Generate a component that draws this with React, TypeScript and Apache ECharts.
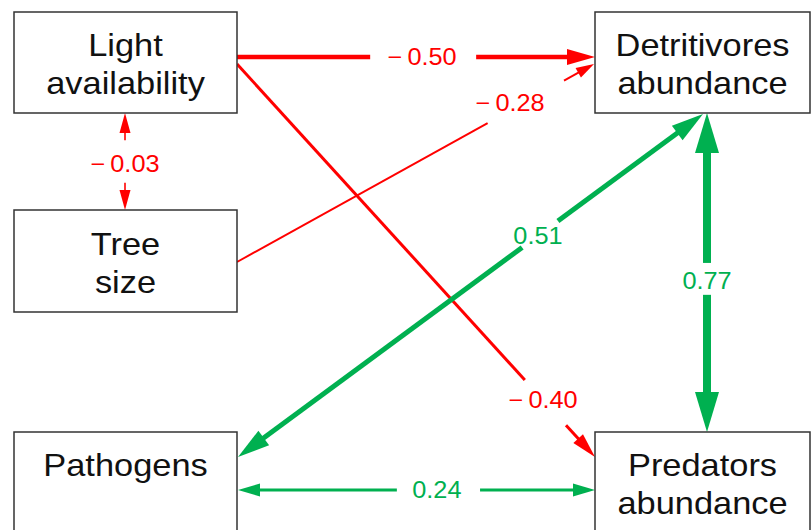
import React, { useEffect, useRef } from "react";
import * as echarts from "echarts";

// ---- Data ----
const variables = [
  "Light\navailability",
  "Tree\nsize",
  "Detritivores\nabundance",
  "Pathogens\n",
  "Predators\nabundance",
];
const pathFrom = [0, 1, 0, 0, 3, 2, 3];
const pathTo = [2, 2, 4, 1, 2, 4, 4];
const coefficients = [-0.5, -0.28, -0.4, -0.03, 0.51, 0.77, 0.24];

// ---- Layout (diagram coordinates) ----
const boxLayout = [
  [14, 12, 237, 113],
  [14, 210, 237, 312],
  [595, 12, 810, 113],
  [14, 432, 237, 533],
  [595, 432, 810, 533],
];
const pathLayout = [
  { p0: [237, 57], p1: [595, 57], w: 4.5, heads: [0, 1], hl: 28, hw: 16, gap: [0.372, 0.668], lt: 0.517, lo: [0, 0] },
  { p0: [237, 262], p1: [594, 64], w: 2, heads: [0, 1], hl: 18, hw: 11, gap: [0.702, 0.916], lt: 0.765, lo: [0, -8] },
  { p0: [237, 64], p1: [595, 457], w: 3, heads: [0, 1], hl: 25, hw: 13, gap: [0.804, 0.919], lt: 0.855, lo: [0, 0] },
  { p0: [125, 113], p1: [125, 210], w: 1.6, heads: [1, 1], hl: 20, hw: 11, gap: [0.28, 0.72], lt: 0.52, lo: [0, 0] },
  { p0: [238, 457], p1: [703, 114], w: 5, heads: [1, 1], hl: 32, hw: 18, gap: [0.611, 0.688], lt: 0.645, lo: [0, 0] },
  { p0: [707, 113], p1: [707, 432], w: 8, heads: [1, 1], hl: 40, hw: 24, gap: [0.47, 0.57], lt: 0.527, lo: [0, 0] },
  { p0: [238, 490], p1: [595, 490], w: 3, heads: [1, 1], hl: 22, hw: 13, gap: [0.445, 0.678], lt: 0.557, lo: [0, 0] },
];

const RED = "#FF0000";
const GREEN = "#00B050";
const FONT = "Liberation Sans, Arial, Helvetica, sans-serif";
const BOX_FS = 31;
const BOX_LH = 38;
const BOX_SX = 1.11;
const LAB_FS = 23;
const LAB_SX = 1.1;

const fmt = (v: number) => (v < 0 ? "\u2212\u2009" + Math.abs(v).toFixed(2) : v.toFixed(2));

export default function App() {
  const ref = useRef<HTMLDivElement>(null);
  useEffect(() => {
    if (!ref.current) return;
    const chart = echarts.init(ref.current, undefined, { renderer: "svg" });

    const renderBox = (params: any, api: any) => {
      const i = api.value(0);
      const [x0, y0, x1, y1] = boxLayout[i];
      const a = api.coord([x0, y0]);
      const b = api.coord([x1, y1]);
      const cx = (a[0] + b[0]) / 2;
      const cy = (a[1] + b[1]) / 2;
      const lines = variables[i].split("\n");
      const n = lines.length;
      const children: any[] = [
        {
          type: "rect",
          shape: { x: a[0], y: a[1], width: b[0] - a[0], height: b[1] - a[1] },
          style: { fill: "#fff", stroke: "#333", lineWidth: 1.5 },
        },
      ];
      lines.forEach((t, j) => {
        if (!t) return;
        children.push({
          type: "text",
          x: cx,
          y: cy + (j - (n - 1) / 2) * BOX_LH + 2,
          scaleX: BOX_SX,
          style: {
            text: t,
            fill: "#111",
            fontSize: BOX_FS,
            fontFamily: FONT,
            align: "center",
            verticalAlign: "middle",
          },
        });
      });
      return { type: "group", children };
    };

    const renderPath = (params: any, api: any) => {
      const k = api.value(0);
      const L = pathLayout[k];
      const v = coefficients[k];
      const color = v < 0 ? RED : GREEN;
      const p0 = api.coord(L.p0);
      const p1 = api.coord(L.p1);
      const dx = p1[0] - p0[0];
      const dy = p1[1] - p0[1];
      const len = Math.hypot(dx, dy);
      const ux = dx / len;
      const uy = dy / len;
      const px = -uy;
      const py = ux;
      const pt = (d: number) => [p0[0] + ux * d, p0[1] + uy * d];
      const s = L.heads[0] ? L.hl * 0.85 : 0;
      const e = L.heads[1] ? len - L.hl * 0.85 : len;
      const segs = [
        [s, L.gap[0] * len],
        [L.gap[1] * len, e],
      ];
      const children: any[] = [];
      segs.forEach(([a, b]) => {
        if (b <= a) return;
        const A = pt(a);
        const B = pt(b);
        children.push({
          type: "line",
          shape: { x1: A[0], y1: A[1], x2: B[0], y2: B[1] },
          style: { stroke: color, lineWidth: L.w },
        });
      });
      const head = (tip: number[], sx: number, sy: number) => {
        const bx = tip[0] - sx * L.hl;
        const by = tip[1] - sy * L.hl;
        return {
          type: "polygon",
          shape: {
            points: [
              tip,
              [bx + px * L.hw / 2, by + py * L.hw / 2],
              [bx - px * L.hw / 2, by - py * L.hw / 2],
            ],
          },
          style: { fill: color },
        };
      };
      if (L.heads[1]) children.push(head(p1, ux, uy));
      if (L.heads[0]) children.push(head(p0, -ux, -uy));
      const lp = pt(L.lt * len);
      children.push({
        type: "text",
        x: lp[0] + L.lo[0],
        y: lp[1] + L.lo[1],
        scaleX: LAB_SX,
        style: {
          text: fmt(v),
          fill: color,
          fontSize: LAB_FS,
          fontFamily: FONT,
          align: "center",
          verticalAlign: "middle",
        },
      });
      return { type: "group", children };
    };

    chart.setOption({
      animation: false,
      backgroundColor: "#ffffff",
      grid: { left: 0, right: 0, top: 0, bottom: 0, containLabel: false },
      xAxis: { type: "value", min: 0, max: 811, show: false },
      yAxis: { type: "value", min: 0, max: 530, inverse: true, show: false },
      series: [
        {
          type: "custom",
          name: "paths",
          coordinateSystem: "cartesian2d",
          clip: false,
          silent: true,
          encode: { x: 1, y: 2 },
          data: pathFrom.map((f, k) => [k, f, pathTo[k]]),
          renderItem: renderPath,
          z: 1,
        },
        {
          type: "custom",
          name: "variables",
          coordinateSystem: "cartesian2d",
          clip: false,
          silent: true,
          encode: { x: 1, y: 2 },
          data: variables.map((_, i) => [i, 0, 0]),
          renderItem: renderBox,
          z: 2,
        },
      ],
    });
    return () => chart.dispose();
  }, []);
  return (
    <div
      ref={ref}
      style={{ position: "fixed", left: 0, top: 0, width: 811, height: 530, background: "#fff" }}
    />
  );
}
